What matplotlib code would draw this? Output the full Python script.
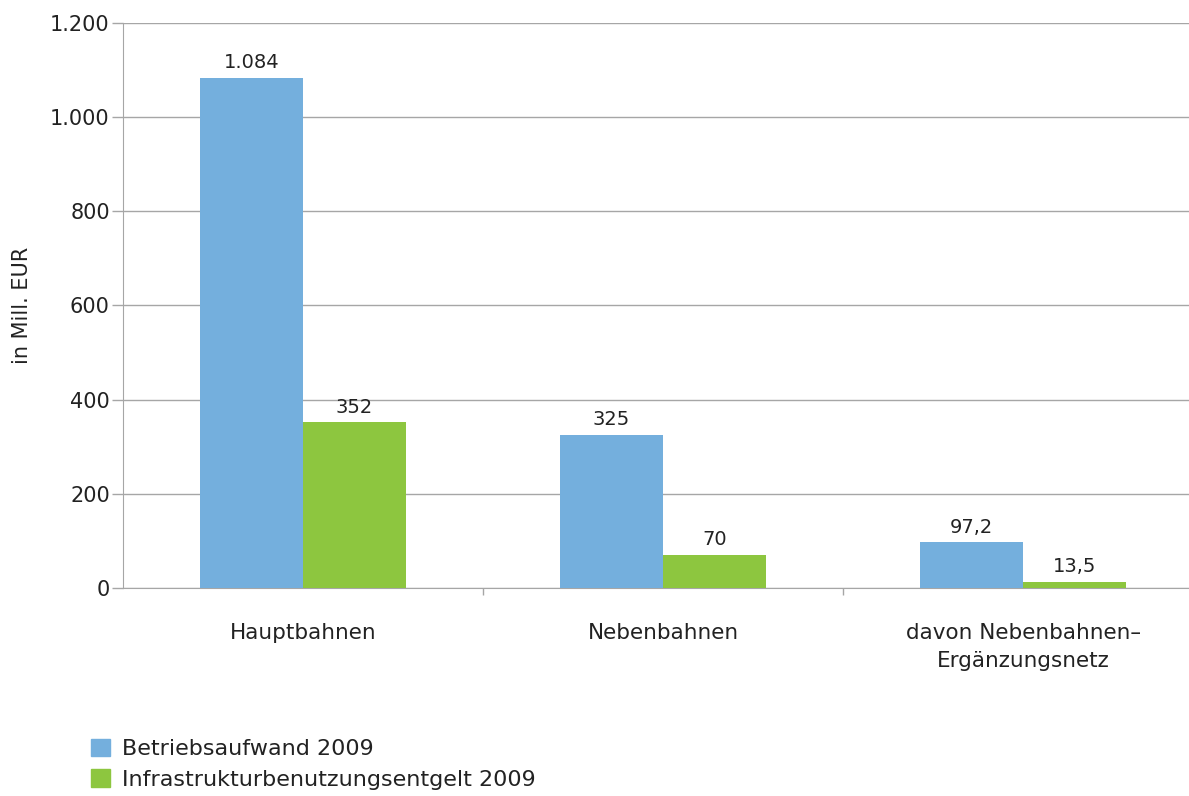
import numpy as np
import matplotlib.pyplot as plt
from matplotlib.patches import Patch

# data
categories = ["Hauptbahnen", "Nebenbahnen", "davon Nebenbahnen–\nErgänzungsnetz"]
betrieb = [1084, 325, 97.2]
infra = [352, 70, 13.5]
betrieb_labels = ["1.084", "325", "97,2"]
infra_labels = ["352", "70", "13,5"]
series_names = ["Betriebsaufwand 2009", "Infrastrukturbenutzungsentgelt 2009"]
yticks = [0, 200, 400, 600, 800, 1000, 1200]
ytick_labels = ["0", "200", "400", "600", "800", "1.000", "1.200"]

BLUE = "#74AFDD"
GREEN = "#8DC63F"
GRID = "#A6A6A6"
TXT = "#222222"

plt.rcParams['font.family'] = ['DejaVu Sans']
plt.rcParams['font.size'] = 14

fig = plt.figure(figsize=(11.89, 7.96), dpi=100)
ax = fig.add_axes([123 / 1189, 1 - 588 / 796, (1189 - 123) / 1189, 565 / 796])

x = np.arange(len(categories))
w = 0.286
ax.bar(x - w / 2, betrieb, w, color=BLUE, zorder=3)
ax.bar(x + w / 2, infra, w, color=GREEN, zorder=3)

for xi, v, lab in zip(x, betrieb, betrieb_labels):
    ax.text(xi - w / 2, v + 12, lab, ha='center', va='bottom', color=TXT, fontsize=14)
for xi, v, lab in zip(x, infra, infra_labels):
    ax.text(xi + w / 2, v + 12, lab, ha='center', va='bottom', color=TXT, fontsize=14)

ax.set_xlim(-0.5, -0.5 + 1066 / 360)
ax.set_ylim(0, 1200)
ax.set_yticks(yticks)
ax.set_yticklabels(ytick_labels, color=TXT, fontsize=15)
ax.yaxis.grid(True, color=GRID, linewidth=1, zorder=0)
ax.tick_params(axis='y', length=8, color=GRID, width=1, pad=1.5)

# category boundaries as tick marks, labels centered on groups
ax.set_xticks([0.5, 1.5])
ax.set_xticklabels([])
ax.tick_params(axis='x', length=5, color=GRID, width=1, direction='out')
for xi, c in zip(x, categories):
    ax.text(xi, -75, c, ha='center', va='top', color=TXT, fontsize=15.5,
            linespacing=1.45)

for s in ['top', 'right']:
    ax.spines[s].set_visible(False)
ax.spines['left'].set_color(GRID)
ax.spines['bottom'].set_color(GRID)

ax.set_ylabel("in Mill. EUR", color=TXT, fontsize=15)
ax.yaxis.set_label_coords(-91 / 1066, 0.5)

handles = [Patch(color=BLUE), Patch(color=GREEN)]
fig.legend(handles, series_names, loc='lower left',
           bbox_to_anchor=(80 / 1189, -0.006), frameon=False, fontsize=16,
           handlelength=0.85, handleheight=0.85, handletextpad=0.55,
           labelspacing=0.45, borderaxespad=0.1, labelcolor=TXT)

fig.savefig("out.png", dpi=100)
